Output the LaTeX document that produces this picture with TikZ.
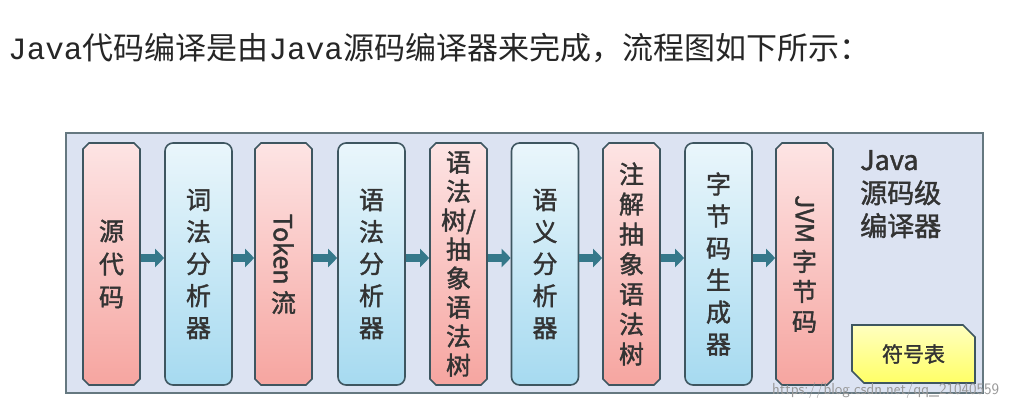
\documentclass[tikz,border=0pt]{standalone}
\usepackage{fontspec}
\newfontfamily\cjk[FakeBold=1.5]{Noto Sans CJK SC}
\newfontfamily\cjkt{Noto Sans CJK SC}
\newfontfamily\mono{Liberation Mono}
\usetikzlibrary{arrows.meta,shapes.misc}
\definecolor{edge}{HTML}{3E5660}
\definecolor{rtop}{HTML}{FDE4E4}
\definecolor{rbot}{HTML}{F6A5A0}
\definecolor{btop}{HTML}{EAF6FB}
\definecolor{bbot}{HTML}{A6DAF0}
\definecolor{bg}{HTML}{DCE3F2}
\definecolor{arr}{HTML}{35788A}
\begin{document}
\begin{tikzpicture}[x=1pt,y=-1pt,
  redbox/.style={draw=edge,line width=1.6pt,chamfered rectangle,chamfered rectangle xsep=3pt,chamfered rectangle ysep=3pt,top color=rtop,bottom color=rbot,minimum width=57pt,minimum height=242pt,inner sep=0pt,align=center,font=\cjk\fontsize{25}{30}\selectfont,text=black!80},
  bluebox/.style={draw=edge,line width=1.6pt,rounded corners=8pt,top color=btop,bottom color=bbot,minimum width=67pt,minimum height=242pt,inner sep=0pt,align=center,font=\cjk\fontsize{25}{32}\selectfont,text=black!80},
  flow/.style={-{Triangle[length=9pt,width=18pt]},line width=8pt,draw=arr}]
\useasboundingbox (0,0) rectangle (1028,411);
\fill[white] (0,0) rectangle (1028,411);
\node[anchor=west,inner sep=0pt,font=\fontsize{31}{34}\selectfont,text=black!85] (title) at (8,48) {{\mono Java}{\cjkt 代码编译是由}{\mono Java}{\cjkt 源码编译器来完成，流程图如下所示：}};
\node[draw=edge!80,line width=1.8pt,fill=bg,minimum width=917pt,minimum height=260pt,inner sep=0pt] (frame) at (524.5,263) {};
\node[redbox,font=\cjk\fontsize{25}{33}\selectfont] (b1) at (111.5,264) {源\\代\\码};
\node[bluebox] (b2) at (198.5,264) {词\\法\\分\\析\\器};
\node[redbox] (b3) at (283.5,264) {\rotatebox{-90}{Token\ }\\流};
\node[bluebox] (b4) at (371.5,264) {语\\法\\分\\析\\器};
\node[redbox,font=\cjk\fontsize{25}{29}\selectfont] (b5) at (458.5,264) {语\\法\\树/\\抽\\象\\语\\法\\树};
\node[bluebox] (b6) at (545,264) {语\\义\\分\\析\\器};
\node[redbox] (b7) at (631.5,264) {注\\解\\抽\\象\\语\\法\\树};
\node[bluebox] (b8) at (718.5,264) {字\\节\\码\\生\\成\\器};
\node[redbox] (b9) at (804.5,264) {\rotatebox{-90}{JVM\ }\\字\\节\\码};
\foreach \a/\b in {b1/b2,b2/b3,b3/b4,b4/b5,b5/b6,b6/b7,b7/b8,b8/b9}
  \draw[flow] (\a.east|-0,258) -- (\b.west|-0,258);
\node[anchor=north west,align=left,inner sep=0pt,font=\cjk\fontsize{27}{33}\selectfont,text=black!80] (lbl) at (860,150) {Java\\源码级\\编译器};
\node[draw=edge,line width=1.6pt,chamfered rectangle,chamfered rectangle corners={north east,south west},chamfered rectangle xsep=6pt,chamfered rectangle ysep=6pt,top color=yellow!25,bottom color=yellow!60,minimum width=123pt,minimum height=58pt,inner sep=0pt,font=\cjk\fontsize{21}{24}\selectfont,text=black!80] (sym) at (913.5,354) {符号表};
\node[anchor=west,inner sep=0pt,font=\fontsize{16}{18}\selectfont\sffamily,text=black!40] (wm) at (772,391) {https://blog.csdn.net/qq\_21040559};
\end{tikzpicture}
\end{document}
